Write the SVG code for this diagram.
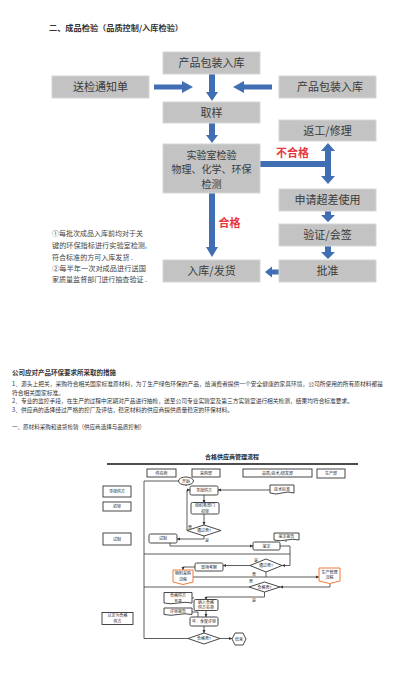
<svg xmlns="http://www.w3.org/2000/svg" width="410" height="675" viewBox="0 0 410 675">
<style>
.bx{fill:#c3c3c3;stroke:#d6d6d6;stroke-width:1}
.bt{font-family:"Noto Sans CJK SC","Noto Sans",sans-serif;font-size:11px;fill:#3a3a3a;text-anchor:middle}
.ar{fill:#3f6eb3}
.red{font-family:"Noto Sans CJK SC",sans-serif;font-size:11px;font-weight:bold;fill:#e8363c;text-anchor:middle}
.nt{font-family:"Noto Sans CJK SC",sans-serif;font-size:6.8px;fill:#444}
.pt{font-family:"Noto Sans CJK SC",sans-serif;font-size:5.8px;fill:#333}
.fb{fill:#fff;stroke:#333;stroke-width:0.9}
.fo{fill:#fff;stroke:#f07a3a;stroke-width:1}
.ft{font-family:"Noto Sans CJK SC",sans-serif;font-size:4px;fill:#222;text-anchor:middle}
.fl{fill:none;stroke:#333;stroke-width:0.8}
</style>
<defs>
<marker id="m" viewBox="0 0 6 6" refX="6" refY="3" markerWidth="4" markerHeight="4" orient="auto"><path d="M0,0 L6,3 L0,6 z" fill="#333"/></marker>
</defs>
<rect width="410" height="675" fill="#fff"/>
<text x="49" y="31" font-family="Noto Sans CJK SC,sans-serif" font-size="7.8" font-weight="bold" fill="#333" textLength="134" lengthAdjust="spacingAndGlyphs">二、成品检验（品质控制/入库检验）</text>

<g id="top-connectors">
<polygon class="ar" points="154,84.5 182,84.5 182,81 193,87 182,93 182,89.5 154,89.5"/>
<polygon class="ar" points="272,84.5 244,84.5 244,81 233,87 244,93 244,89.5 272,89.5"/>
<polygon class="ar" points="209,74 215,74 215,92 218,92 212,101 206,92 209,92"/>
<polygon class="ar" points="209,123 215,123 215,135 218,135 212,143 206,135 209,135"/>
<polygon class="ar" points="260,161 325,161 325,167 260,167"/>
<polygon class="ar" points="325,152 325,151 321,151 328,143 335,151 331,151 331,176 335,176 328,184 321,176 325,176"/>
<polygon class="ar" points="325,211 331,211 331,215 335,215 328,222 321,215 325,215"/>
<polygon class="ar" points="325,246 331,246 331,252 335,252 328,259 321,252 325,252"/>
<polygon class="ar" points="279,269.5 272,269.5 272,266.5 265,272 272,277.5 272,274.5 279,274.5"/>
<polygon class="ar" points="209,193 215,193 215,247 218,247 212,257 206,247 209,247"/>
</g>

<g id="n-pack1"><rect class="bx" x="163" y="52" width="97" height="22"/><text class="bt" x="211.5" y="67">产品包装入库</text></g>
<g id="n-notice"><rect class="bx" x="52" y="76" width="97" height="22"/><text class="bt" x="100.5" y="91">送检通知单</text></g>
<g id="n-pack2"><rect class="bx" x="279" y="76" width="97" height="22"/><text class="bt" x="330" y="91">产品包装入库</text></g>
<g id="n-sample"><rect class="bx" x="163" y="102" width="97" height="21"/><text class="bt" x="211.5" y="116.5">取样</text></g>
<g id="n-rework"><rect class="bx" x="279" y="120" width="97" height="21"/><text class="bt" x="327.5" y="134.5">返工/修理</text></g>
<g id="n-lab"><rect class="bx" x="163" y="144" width="97" height="49"/><text class="bt" x="211.5" y="158.5" style="font-size:10px">实验室检验</text><text class="bt" x="211.5" y="173" style="font-size:10px">物理、化学、环保</text><text class="bt" x="211.5" y="187.5" style="font-size:10px">检测</text></g>
<g id="n-apply"><rect class="bx" x="279" y="189" width="97" height="22"/><text class="bt" x="327.5" y="204">申请超差使用</text></g>
<g id="n-verify"><rect class="bx" x="279" y="224" width="97" height="22"/><text class="bt" x="327.5" y="239">验证/会签</text></g>
<g id="n-approve"><rect class="bx" x="279" y="260" width="97" height="22"/><text class="bt" x="327.5" y="275">批准</text></g>
<g id="n-store"><rect class="bx" x="163" y="260" width="97" height="22"/><text class="bt" x="211.5" y="275">入库/发货</text></g>
<text class="red" x="292.5" y="157">不合格</text>
<text class="red" x="229.5" y="227">合格</text>

<g id="notes">
<text class="nt" x="52" y="236" textLength="91" lengthAdjust="spacingAndGlyphs">①每批次成品入库前均对于关</text>
<text class="nt" x="52" y="248" textLength="95" lengthAdjust="spacingAndGlyphs">键的环保指标进行实验室检测,</text>
<text class="nt" x="52" y="260" textLength="81" lengthAdjust="spacingAndGlyphs">符合标准的方可入库发货 .</text>
<text class="nt" x="52" y="271" textLength="94" lengthAdjust="spacingAndGlyphs">②每半年一次对成品进行送国</text>
<text class="nt" x="52" y="282" textLength="95" lengthAdjust="spacingAndGlyphs">家质量监督部门进行抽查验证 .</text>
</g>

<g id="measures">
<text x="12" y="375" font-family="Noto Sans CJK SC,sans-serif" font-size="6.5" font-weight="bold" fill="#333" textLength="104" lengthAdjust="spacingAndGlyphs">公司应对产品环保要求所采取的措施</text>
<text class="pt" x="12" y="386" textLength="371" lengthAdjust="spacingAndGlyphs">1、源头上把关，采购符合相关国家标准原材料，为了生产绿色环保的产品，给消费者提供一个安全健康的家具环境，公司所使用的所有原材料都是</text>
<text class="pt" x="12" y="394.5" textLength="52" lengthAdjust="spacingAndGlyphs">符合相关国家标准。</text>
<text class="pt" x="12" y="403" textLength="341" lengthAdjust="spacingAndGlyphs">2、专业的监控手段，在生产的过程中定期对产品进行抽检，送至公司专业实验室及第三方实验室进行相关检测，结果均符合标准要求。</text>
<text class="pt" x="12" y="411.5" textLength="221" lengthAdjust="spacingAndGlyphs">3、供应商的选择经过严格的控厂及评估，稳定材料的供应商提供质量稳定的环保材料。</text>
<text class="pt" x="12" y="429" textLength="133" lengthAdjust="spacingAndGlyphs">一、原材料采购和进货检验（供应商选择与品质控制）</text>
</g>

<text x="232" y="459" font-family="Noto Sans CJK SC,sans-serif" font-size="6" font-weight="bold" fill="#222" text-anchor="middle">合格供应商管理流程</text>
<line x1="107" y1="464" x2="358" y2="464" stroke="#111" stroke-width="1.6"/>

<g id="flow-connectors">
<path class="fl" d="M144,481 H179"/>
<path class="fl" d="M188,638.5 H144 V481"/>
<path class="fl" d="M186,485 V486"/>
<path class="fl" d="M270,490 H218" marker-end="url(#m)"/>
<path class="fl" d="M204,495 V503" marker-end="url(#m)"/>
<path class="fl" d="M204,514 V525" marker-end="url(#m)"/>
<path class="fl" d="M187,530.5 V490 H190" marker-end="url(#m)"/>
<path class="fl" d="M204,536 V539 H177" marker-end="url(#m)"/>
<path class="fl" d="M170,543 V546 H253" marker-end="url(#m)"/>
<path class="fl" d="M286,540 V542"/>
<path class="fl" d="M280,546 H290 V565.5 H282" marker-end="url(#m)"/>
<path class="fl" d="M144,554 H290"/>
<path class="fl" d="M250,565.5 H223" marker-end="url(#m)"/>
<path class="fl" d="M195,567 H183 V570" marker-end="url(#m)"/>
<path class="fl" d="M266,572 V577"/>
<path class="fl" d="M193,577 H319" marker-end="url(#m)"/>
<path class="fl" d="M144,587 H249"/>
<path class="fl" d="M330,583 V587 H280" marker-end="url(#m)"/>
<path class="fl" d="M264.5,592 V597 H206 V600" marker-end="url(#m)"/>
<path class="fl" d="M192,598 H194"/>
<path class="fl" d="M206,610 V617" marker-end="url(#m)"/>
<path class="fl" d="M192,612 H198 V617"/>
<path class="fl" d="M204,626 V633" marker-end="url(#m)"/>
<path class="fl" d="M220,638.5 H232" marker-end="url(#m)"/>
</g>

<g id="h-supplier"><rect class="fb" x="147" y="469" width="29" height="8"/><text class="ft" x="161.5" y="474.5">供应商</text></g>
<g id="h-purchase"><rect class="fb" x="192" y="469" width="28" height="8"/><text class="ft" x="206" y="474.5">采购部</text></g>
<g id="h-quality"><rect class="fb" x="243" y="469" width="69" height="8"/><text class="ft" x="277.5" y="474.5">品质/技术/研发部</text></g>
<g id="h-production"><rect class="fb" x="317" y="469" width="28" height="9"/><text class="ft" x="331" y="475">生产部</text></g>

<g id="l-find"><rect class="fb" x="103" y="486" width="28" height="11"/><text class="ft" x="117" y="493">寻找供方</text></g>
<g id="l-review"><rect class="fb" x="103" y="502" width="28" height="9"/><text class="ft" x="117" y="508">初审</text></g>
<g id="l-trial"><rect class="fb" x="103" y="533" width="28" height="12"/><text class="ft" x="117" y="540.5">试制</text></g>
<g id="l-qualified"><rect class="fb" x="102" y="612.5" width="31" height="12"/><text class="ft" x="117.5" y="617.3">认定为合格</text><text class="ft" x="117.5" y="622.6">供方</text></g>

<g id="f-start"><ellipse class="fb" cx="186" cy="481" rx="7.5" ry="4"/><text class="ft" x="186" y="482.5">开始</text></g>
<g id="f-find"><rect class="fb" x="190" y="486" width="28" height="9" rx="1.5"/><text class="ft" x="204" y="491.8">寻找供方</text></g>
<g id="f-std"><path class="fb" d="M270,485 H294 V493 Q288,491 282,493 Q276,495 270,493 Z"/><text class="ft" x="282" y="490.5">技术标准</text></g>
<g id="f-orgreview"><rect class="fb" x="191" y="502.5" width="28" height="11.5" rx="1.5"/><text class="ft" x="205" y="507.2">组织各部门</text><text class="ft" x="205" y="512.5">初审</text></g>
<g id="f-d1"><path class="fb" d="M187,530.5 L204,525 L221,530.5 L204,536 Z"/><text class="ft" x="204" y="532">通过否?</text></g>
<text class="ft" x="190" y="529">否</text>
<text class="ft" x="207" y="542">是</text>
<g id="f-trial"><rect class="fb" x="149" y="534" width="28" height="9" rx="1.5"/><text class="ft" x="163" y="540">试制</text></g>
<g id="f-report"><path class="fb" d="M274,533 H299 V540 Q293,538.5 286.5,540 Q280,541.5 274,540 Z"/><text class="ft" x="286.5" y="538">鉴定报告</text></g>
<g id="f-appraise"><rect class="fb" x="253" y="542" width="27" height="8" rx="1.5"/><text class="ft" x="266.5" y="547.5">鉴定</text></g>
<g id="f-d2"><path class="fb" d="M250,565.5 L266,559 L282,565.5 L266,572 Z"/><text class="ft" x="266" y="567">通过否?</text></g>
<text class="ft" x="256" y="561.5">是</text>
<text class="ft" x="254" y="576">否</text>
<g id="f-site"><rect class="fb" x="195" y="563" width="28" height="8" rx="1.5"/><text class="ft" x="209" y="568.5">现场考察</text></g>
<g id="f-mat"><path class="fo" d="M173,570 H193 V582 L183,584.5 L173,582 Z"/><text class="ft" x="183" y="575">物料采购</text><text class="ft" x="183" y="580.5">流程</text></g>
<g id="f-prod"><path class="fo" d="M319,568 H340 V581 L329.5,583.5 L319,581 Z"/><text class="ft" x="329.5" y="573.5">生产管理</text><text class="ft" x="329.5" y="579">流程</text></g>
<g id="f-d3"><path class="fb" d="M249,587 L264.5,582 L280,587 L264.5,592 Z"/><text class="ft" x="264.5" y="588.5">合格否?</text></g>
<text class="ft" x="251" y="583">否</text>
<text class="ft" x="254" y="602">是</text>
<g id="f-list"><path class="fb" d="M164,592.5 H192 V603 Q185,601.5 178,603 Q171,604.5 164,603 Z"/><text class="ft" x="178" y="596.6">合格供方</text><text class="ft" x="178" y="602" style="font-size:3.8px">名录</text></g>
<g id="f-include"><rect class="fb" x="194" y="599.5" width="24" height="11" rx="1.5"/><text class="ft" x="206" y="604">纳入合格</text><text class="ft" x="206" y="609.3">供方名单</text></g>
<g id="f-revrep"><path class="fb" d="M164,608 H192 V614.5 Q185,613 178,614.5 Q171,616 164,614.5 Z"/><text class="ft" x="178" y="613">评审报告</text></g>
<g id="f-annual"><rect class="fb" x="190" y="617" width="28" height="9" rx="1.5"/><text class="ft" x="204" y="623">年、季度评审</text></g>
<g id="f-d4"><path class="fb" d="M188,638.5 L204,633 L220,638.5 L204,644 Z"/><text class="ft" x="204" y="640">合格否?</text></g>
<g id="f-end"><path class="fb" d="M232,639 L235,633 L243,633 L246,639 L243,645 L235,645 Z"/><text class="ft" x="239" y="640.5">结束</text></g>
</svg>
